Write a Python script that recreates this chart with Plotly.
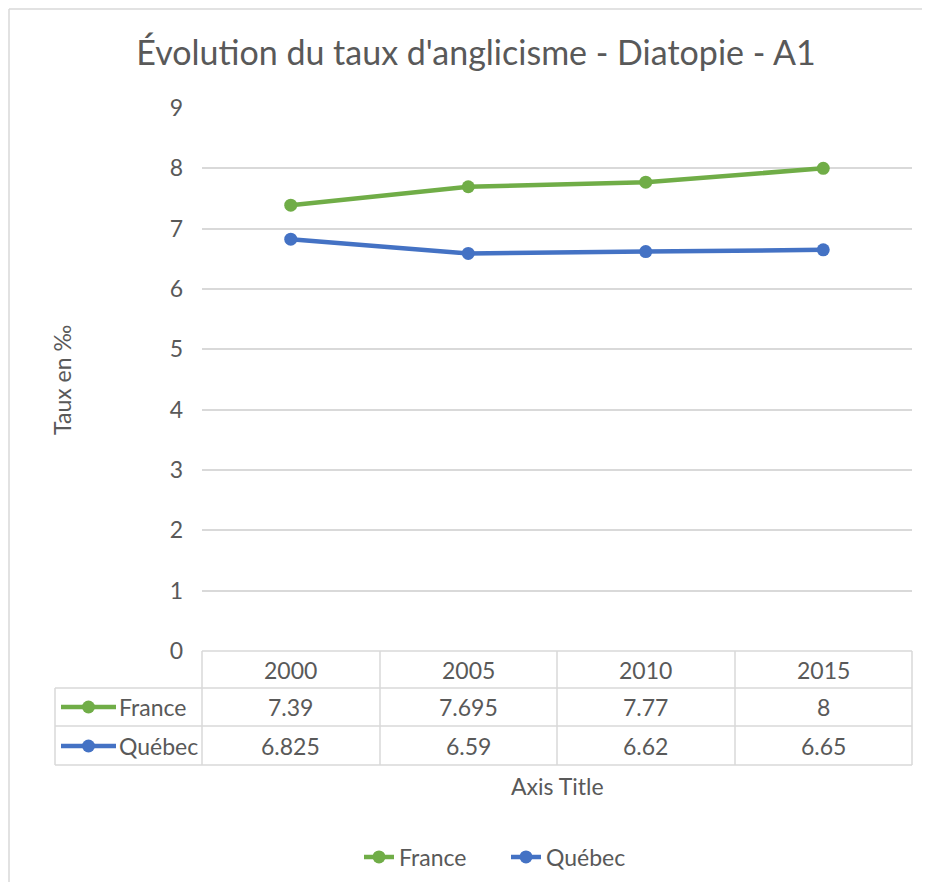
import plotly.graph_objects as go

years = ["2000", "2005", "2010", "2015"]
france = [7.39, 7.695, 7.77, 8]
quebec = [6.825, 6.59, 6.62, 6.65]
france_labels = ["7.39", "7.695", "7.77", "8"]
quebec_labels = ["6.825", "6.59", "6.62", "6.65"]
y_ticks = [0, 1, 2, 3, 4, 5, 6, 7, 8, 9]

OFF = 8  # default body margin of the html page
W, H = 930 - 2 * OFF, 890 - 2 * OFF
GREEN = "#70AD47"
BLUE = "#4472C4"
GRID = "#D9D9D9"
TXT = "#595959"
FONT = "Lato"
FS = 23


def px(x):
    return (x - OFF) / W


def py(y):
    return 1 - (y - OFF) / H


PL, PR, PT, PB = 202, 912, 108, 651

fig = go.Figure()
xi = list(range(len(years)))
fig.add_trace(go.Scatter(x=xi, y=france, name="France", mode="lines+markers",
                         line=dict(color=GREEN, width=4.5), marker=dict(size=13, color=GREEN)))
fig.add_trace(go.Scatter(x=xi, y=quebec, name="Québec", mode="lines+markers",
                         line=dict(color=BLUE, width=4.5), marker=dict(size=13, color=BLUE)))

shapes = []
annotations = []

# outer chart border (left and top edges visible)
shapes.append(dict(type="line", xref="paper", yref="paper", x0=px(9), x1=px(9),
                   y0=py(9), y1=0, line=dict(color=GRID, width=1.5)))
shapes.append(dict(type="line", xref="paper", yref="paper", x0=px(9), x1=1,
                   y0=py(9), y1=py(9), line=dict(color=GRID, width=1.5)))

# data table grid
rows = [651, 688, 726, 765]
cols = [202, 380, 557, 735, 912]
for r in rows:
    x0 = PL if r == 651 else 55
    shapes.append(dict(type="line", xref="paper", yref="paper", x0=px(x0), x1=px(PR),
                       y0=py(r), y1=py(r), line=dict(color=GRID, width=1.5)))
for c in cols:
    shapes.append(dict(type="line", xref="paper", yref="paper", x0=px(c), x1=px(c),
                       y0=py(651), y1=py(765), line=dict(color=GRID, width=1.5)))
shapes.append(dict(type="line", xref="paper", yref="paper", x0=px(55), x1=px(55),
                   y0=py(688), y1=py(765), line=dict(color=GRID, width=1.5)))

# table texts
row_centers = [670, 707, 746]
for i in xi:
    for r, labels in zip(row_centers, [years, france_labels, quebec_labels]):
        annotations.append(dict(x=i, y=py(r), xref="x", yref="paper", text=labels[i],
                                yanchor="middle", showarrow=False,
                                font=dict(size=FS, color=TXT, family=FONT)))

# legend keys in table
for name, color, yc in [("France", GREEN, row_centers[1]), ("Québec", BLUE, row_centers[2])]:
    shapes.append(dict(type="line", xref="paper", yref="paper", x0=px(61), x1=px(116),
                       y0=py(yc), y1=py(yc), line=dict(color=color, width=4.5)))
    shapes.append(dict(type="circle", xref="paper", yref="paper", x0=px(82), x1=px(95),
                       y0=py(yc + 6.5), y1=py(yc - 6.5), fillcolor=color, line=dict(color=color, width=0)))
    annotations.append(dict(x=px(117), y=py(yc), xref="paper", yref="paper", text=name,
                            xanchor="left", yanchor="middle", showarrow=False,
                            font=dict(size=FS, color=TXT, family=FONT)))

# axis titles
annotations.append(dict(x=px(62), y=py(380), xref="paper", yref="paper", text="Taux en ‰",
                        textangle=-90, xanchor="center", yanchor="middle", showarrow=False,
                        font=dict(size=FS, color=TXT, family=FONT)))
annotations.append(dict(x=px(557), y=py(786), xref="paper", yref="paper", text="Axis Title",
                        xanchor="center", yanchor="middle", showarrow=False,
                        font=dict(size=FS, color=TXT, family=FONT)))

fig.update_layout(
    width=W, height=H,
    margin=dict(l=0, r=0, t=0, b=0, autoexpand=False),
    paper_bgcolor="white", plot_bgcolor="white",
    font=dict(family=FONT, color=TXT, size=FS),
    title=dict(text="Évolution du taux d'anglicisme - Diatopie - A1", x=px(476), xanchor="center",
               y=py(53), yanchor="middle", font=dict(size=34, color=TXT, family=FONT)),
    xaxis=dict(domain=[px(PL), px(PR)], range=[-0.5, 3.5], showticklabels=False,
               showgrid=False, zeroline=False, showline=False, fixedrange=True),
    yaxis=dict(domain=[py(PB), py(PT)], range=[0, 9], tickvals=y_ticks,
               showgrid=True, gridcolor=GRID, gridwidth=1.5, zeroline=False, showline=False,
               ticks="", ticklabelstandoff=18, tickfont=dict(size=FS, color=TXT, family=FONT)),
    legend=dict(orientation="h", x=px(506), xanchor="center", y=py(857), yanchor="middle",
                font=dict(size=FS, color=TXT, family=FONT), entrywidth=102),
    shapes=shapes,
    annotations=annotations,
)

fig.write_html("out.html")
